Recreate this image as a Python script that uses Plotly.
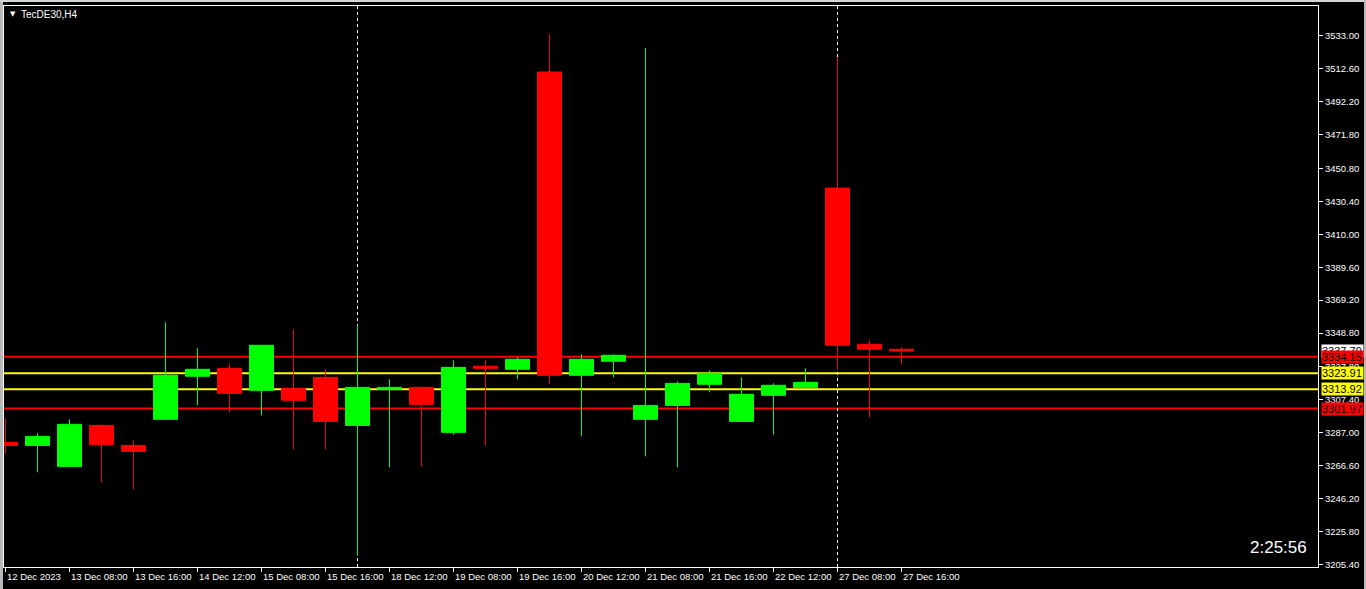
import plotly.graph_objects as go

# ---------------- data ----------------
bar_index = list(range(29))
opens = [3281.0, 3279.1, 3266.1, 3291.5, 3279.1, 3295.3, 3322.0, 3326.9, 3313.3, 3314.5,
         3321.3, 3291.5, 3313.9, 3315.1, 3287.2, 3328.2, 3326.3, 3510.7, 3322.6, 3331.3,
         3295.3, 3303.9, 3317.0, 3294.0, 3310.2, 3315.1, 3438.7, 3341.8, 3338.7]
highs = [3295.9, 3286.6, 3295.3, 3292.2, 3282.2, 3355.5, 3339.3, 3330.0, 3341.2, 3351.1,
         3326.3, 3353.6, 3320.1, 3315.7, 3331.9, 3331.9, 3333.7, 3534.2, 3335.6, 3335.6,
         3525.6, 3318.8, 3325.7, 3321.3, 3317.6, 3326.9, 3520.0, 3344.3, 3340.0]
lows = [3274.2, 3262.4, 3266.1, 3256.2, 3251.8, 3295.3, 3303.9, 3299.6, 3297.7, 3276.6,
        3276.6, 3210.8, 3265.5, 3266.1, 3285.9, 3279.1, 3320.1, 3317.0, 3284.7, 3321.3,
        3272.3, 3265.5, 3312.0, 3294.0, 3285.9, 3315.1, 3326.0, 3296.5, 3329.4]
closes = [3279.1, 3284.7, 3292.2, 3279.7, 3275.4, 3322.6, 3326.3, 3311.4, 3341.2, 3307.1,
          3294.0, 3315.1, 3315.1, 3304.6, 3327.5, 3326.9, 3332.5, 3322.6, 3332.5, 3335.0,
          3303.9, 3317.6, 3323.8, 3310.8, 3316.4, 3318.2, 3341.2, 3338.7, 3337.79]

time_tick_index = [0, 2, 4, 6, 8, 10, 12, 14, 16, 18, 20, 22, 24, 26, 28]
time_tick_labels = ["12 Dec 2023", "13 Dec 08:00", "13 Dec 16:00", "14 Dec 12:00",
                    "15 Dec 08:00", "15 Dec 16:00", "18 Dec 12:00", "19 Dec 08:00",
                    "19 Dec 16:00", "20 Dec 12:00", "21 Dec 08:00", "21 Dec 16:00",
                    "22 Dec 12:00", "27 Dec 08:00", "27 Dec 16:00"]

price_ticks = [3533.00, 3512.60, 3492.20, 3471.80, 3450.80, 3430.40, 3410.00, 3389.60,
               3369.20, 3348.80, 3327.80, 3307.40, 3287.00, 3266.60, 3246.20, 3225.80, 3205.40]

level_values = [3334.15, 3323.91, 3313.92, 3301.97]
level_colors = ["#FF0000", "#FFFF00", "#FFFF00", "#FF0000"]

separator_index = [11, 26]
current_price = 3337.79
symbol_title = "TecDE30,H4"
timer_text = "2:25:56"

# ---------------- layout geometry ----------------
W, H = 1366, 589
ML, MR, MT, MB = 4, 48, 6, 22
PW, PH = W - ML - MR, H - MT - MB
BAR_PX = 32.0
X0 = -1.5 / BAR_PX
X1 = X0 + PW / BAR_PX
FONT = "Liberation Sans, Arial, sans-serif"


def px_x(p):
    return (p - ML) / PW


def px_y(p):
    return (H - MB - p) / PH


fig = go.Figure()
fig.add_trace(go.Candlestick(
    x=bar_index, open=opens, high=highs, low=lows, close=closes,
    increasing=dict(line=dict(color="#00FF00", width=1), fillcolor="#00FF00"),
    decreasing=dict(line=dict(color="#FF0000", width=1), fillcolor="#FF0000"),
    whiskerwidth=0, hoverinfo="skip", showlegend=False,
))

shapes = []
# outer window frame
shapes.append(dict(type="rect", xref="paper", yref="paper", x0=px_x(0), x1=px_x(3),
                   y0=px_y(H), y1=px_y(0), fillcolor="#b8b8b8", line=dict(width=0), layer="below"))
shapes.append(dict(type="rect", xref="paper", yref="paper", x0=px_x(0), x1=px_x(W),
                   y0=px_y(2), y1=px_y(0), fillcolor="#d4d4d4", line=dict(width=0), layer="below"))
shapes.append(dict(type="rect", xref="paper", yref="paper", x0=px_x(1364), x1=px_x(W),
                   y0=px_y(H), y1=px_y(0), fillcolor="#b8b8b8", line=dict(width=0), layer="below"))

for v, c in zip(level_values, level_colors):
    shapes.append(dict(type="line", xref="paper", yref="y", x0=0, x1=1, y0=v, y1=v,
                       line=dict(color=c, width=2), layer="below"))
for s in separator_index:
    shapes.append(dict(type="line", xref="x", yref="paper", x0=s, x1=s, y0=0, y1=1,
                       line=dict(color="#FFFFFF", width=1, dash="3px,3px"), layer="below"))

annotations = []
for i, lab in zip(time_tick_index, time_tick_labels):
    annotations.append(dict(x=i, xref="x", y=px_y(576.5), yref="paper", text=lab,
                            xanchor="left", yanchor="middle", showarrow=False, xshift=-1,
                            font=dict(family=FONT, size=9.5, color="#FFFFFF")))

# price labels on the right axis
label_items = [(current_price, "#FFFFFF")] + list(zip(level_values, level_colors))
for v, c in label_items:
    annotations.append(dict(x=px_x(1321), xref="paper", y=v, yref="y", text=f"{v:.2f}",
                            xanchor="left", yanchor="middle", showarrow=False,
                            bgcolor=c, width=41, height=12, borderpad=0, align="left",
                            font=dict(family=FONT, size=11, color="#000000")))

annotations.append(dict(x=px_x(8), xref="paper", y=px_y(14.5), yref="paper", text="▼",
                        xanchor="left", yanchor="middle", showarrow=False,
                        font=dict(family="DejaVu Sans", size=7, color="#FFFFFF")))
annotations.append(dict(x=px_x(19), xref="paper", y=px_y(14.5), yref="paper", text=symbol_title,
                        xanchor="left", yanchor="middle", showarrow=False,
                        font=dict(family=FONT, size=10, color="#FFFFFF")))
annotations.append(dict(x=px_x(1309), xref="paper", y=px_y(547.5), yref="paper", text=timer_text,
                        xanchor="right", yanchor="middle", showarrow=False,
                        font=dict(family=FONT, size=17, color="#FFFFFF")))

fig.update_layout(
    width=W, height=H, autosize=False,
    margin=dict(l=ML, r=MR, t=MT, b=MB, pad=0),
    paper_bgcolor="#000000", plot_bgcolor="#000000",
    boxgap=0.25, boxgroupgap=0,
    showlegend=False,
    shapes=shapes, annotations=annotations,
    xaxis=dict(range=[X0, X1], tickvals=time_tick_index, ticktext=[""] * len(time_tick_index),
               ticks="outside", ticklen=4, tickcolor="#FFFFFF", showgrid=False, zeroline=False,
               showline=True, mirror=True, linecolor="#FFFFFF", linewidth=1,
               rangeslider=dict(visible=False), fixedrange=True),
    yaxis=dict(range=[3203.7, 3551.6], side="right", tickvals=price_ticks,
               ticktext=[f"{t:.2f}" for t in price_ticks],
               ticks="outside", ticklen=4, tickcolor="#FFFFFF",
               tickfont=dict(family=FONT, size=9.5, color="#FFFFFF"),
               showgrid=False, zeroline=False, showline=True, mirror=True,
               linecolor="#FFFFFF", linewidth=1, fixedrange=True),
)

fig.write_html("out.html", config={"displayModeBar": False},
               post_script="document.body.style.margin='0';document.body.style.overflow='hidden';")
